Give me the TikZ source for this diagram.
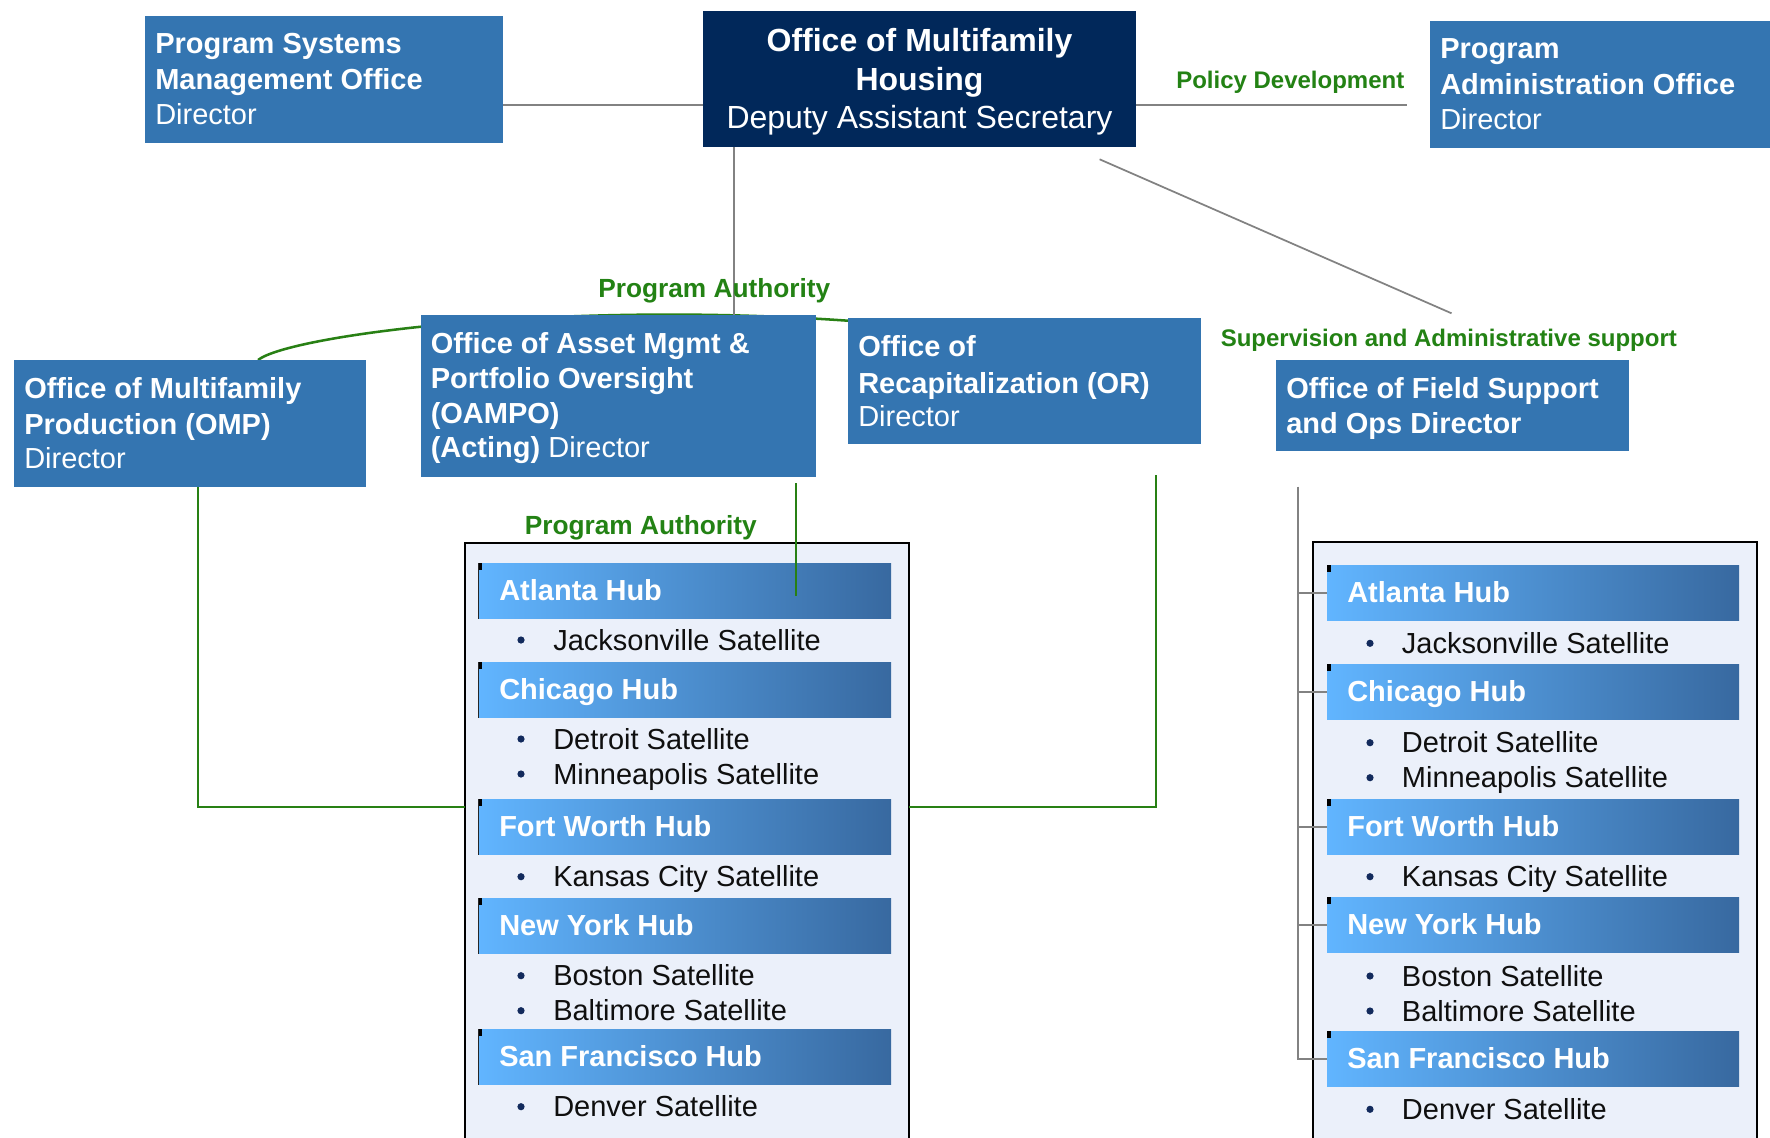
\documentclass[tikz,border=0pt]{standalone}
\usepackage{fontspec}
\setmainfont{Liberation Sans}
\usetikzlibrary{fit}
\definecolor{boxblue}{RGB}{52,117,177}
\definecolor{navy}{RGB}{1,40,90}
\definecolor{lblgreen}{RGB}{35,130,20}
\definecolor{lngreen}{RGB}{40,128,20}
\definecolor{lngray}{RGB}{130,130,130}
\definecolor{panelfill}{RGB}{235,240,250}
\definecolor{hubL}{RGB}{97,181,255}
\definecolor{hubR}{RGB}{56,105,160}
\definecolor{bulletc}{RGB}{18,42,92}
\definecolor{satc}{RGB}{15,15,15}
\begin{document}
\begin{tikzpicture}[x=0.75pt,y=-0.75pt,
  box/.style={fill=boxblue,draw=none,inner sep=0,outer sep=0},
  panel/.style={fill=panelfill,draw=black,line width=1.4pt,inner sep=0,outer sep=0},
  hubbar/.style={left color=hubL,right color=hubR,draw=none,inner sep=0,outer sep=0},
  bt/.style={font=\fontsize{21.75pt}{26pt}\selectfont\bfseries,text=white,inner sep=0,anchor=base west},
  rt/.style={font=\fontsize{21.75pt}{26pt}\selectfont,text=white,inner sep=0,anchor=base west},
  mbt/.style={font=\fontsize{24pt}{28pt}\selectfont\bfseries,text=white,inner sep=0,anchor=base},
  mrt/.style={font=\fontsize{24pt}{28pt}\selectfont,text=white,inner sep=0,anchor=base},
  lbl/.style={font=\fontsize{18pt}{22pt}\selectfont\bfseries,text=lblgreen,inner sep=0,anchor=base west},
  lblbig/.style={font=\fontsize{19.7pt}{24pt}\selectfont\bfseries,text=lblgreen,inner sep=0,anchor=base west},
  hubt/.style={font=\fontsize{21.75pt}{26pt}\selectfont\bfseries,text=white,inner sep=0,anchor=base west},
  sat/.style={font=\fontsize{21.75pt}{26pt}\selectfont,text=satc,inner sep=0,anchor=base west},
  grayline/.style={draw=lngray,line width=1.5pt},
  greenline/.style={draw=lngreen,line width=1.6pt},
]
\useasboundingbox (0,0) rectangle (1770,1138);
\fill[white] (0,0) rectangle (1770,1138);

% ---------- helper coordinates ----------
\coordinate (hA) at (0,105.3);
\coordinate (paoGap) at (1406.7,105.3);
\coordinate (vA) at (734,0);
\coordinate (dgA) at (1099.6,159.3);
\coordinate (dgB) at (1451.5,313.3);
\coordinate (orIn) at (852,321);
\coordinate (gx1) at (198,0);
\coordinate (gy) at (0,806.7);
\coordinate (orTop) at (1156.4,475);
\coordinate (oaTop) at (796,483);
\coordinate (oaEnd) at (796,596);
\coordinate (spTop) at (1298,486.7);

% ---------- green curve (behind boxes) ----------
\draw[draw=lngreen,line width=1.9pt] (258,360) coordinate (cvS) .. controls (290,335) and (560,300) .. (orIn);

% ---------- top boxes ----------
\node (psmo) [box, fit={(145,16) (503,143)}] {};
\node (main) [box, fill=navy, fit={(703,11) (1136,147)}] {};
\node (pao) [box, fit={(1430,21) (1775,147.7)}] {};
\node (omp) [box, fit={(14,360) (366,487)}] {};
\node (oampo) [box, fit={(421,315) (816,477)}] {};
\node (orbox) [box, fit={(848,318) (1201,444)}] {};
\node (ofso) [box, fit={(1276,360) (1629,451)}] {};

% ---------- gray connectors ----------
\draw[grayline] (psmo.east |- hA) -- (main.west |- hA);
\draw[grayline] (main.east |- hA) -- (paoGap);
\draw[grayline] (main.south -| vA) -- (oampo.north -| vA);
\draw[draw=lngray,line width=1.3pt] (dgA) -- (dgB);

% ---------- box texts ----------
\node (psmo1) [bt] at (155,53.3) {Program Systems};
\node (psmo2) [bt] at (155,89.3) {Management Office};
\node (psmo3) [rt] at (155,124) {Director};

\node (main1) [mbt] at (919.5,51.7) {Office of Multifamily};
\node (main2) [mbt] at (919.5,90) {Housing};
\node (main3) [mrt] at (919.5,128.3) {Deputy Assistant Secretary};

\node (pao1) [bt] at (1440,58.3) {Program};
\node (pao2) [bt] at (1440,94.3) {Administration Office};
\node (pao3) [rt] at (1440,129) {Director};

\node (omp1) [bt] at (24,398) {Office of Multifamily};
\node (omp2) [bt] at (24,434) {Production (OMP)};
\node (omp3) [rt] at (24,468) {Director};

\node (oa1) [bt] at (430.5,353) {Office of Asset Mgmt \&};
\node (oa2) [bt] at (430.5,388) {Portfolio Oversight};
\node (oa3) [bt] at (430.5,423) {(OAMPO)};
\node (oa4) [rt] at (430.5,457.7) {\textbf{(Acting)} Director};

\node (or1) [bt] at (858,356) {Office of};
\node (or2) [bt] at (858,393) {Recapitalization (OR)};
\node (or3) [rt] at (858,426.7) {Director};

\node (fs1) [bt] at (1286,398.3) {Office of Field Support};
\node (fs2) [bt] at (1286,433.3) {and Ops Director};

% ---------- labels ----------
\node (lblPD) [lbl] at (1176,89) {Policy Development};
\node (lblPA1) [lblbig] at (598,297.7) {Program Authority};
\node (lblSA) [lbl] at (1220.5,346.7) {Supervision and Administrative support};
\node (lblPA2) [lblbig] at (524.5,534) {Program Authority};

% ---------- panels ----------
\node (lpanel) [panel, fit={(465,543) (909,1160)}] {};
\node (rpanel) [panel, fit={(1313.4,542) (1757,1160)}] {};

% ---------- green connectors ----------
\draw[greenline] (omp.south -| gx1) -- (gx1 |- gy) -- (lpanel.west |- gy);
\draw[greenline] (orTop) -- (orTop |- gy) -- (lpanel.east |- gy);

% ---------- left hubs ----------
\node (lh1) [hubbar, fit={(478,563.3) (891,618.7)}] {};
\node (lh2) [hubbar, fit={(478,662) (891,717.7)}] {};
\node (lh3) [hubbar, fit={(478,799) (891,854.7)}] {};
\node (lh4) [hubbar, fit={(478,898.3) (891,953.7)}] {};
\node (lh5) [hubbar, fit={(478,1029) (891,1084.7)}] {};
\foreach \t/\b in {563.3/618.7,662/717.7,799/854.7,898.3/953.7,1029/1084.7}{
  \fill[black] (478,\t) rectangle (481.5,\t+7);
  \draw[black!85,line width=0.7pt] (478.5,\t) -- (478.5,\b);
}
\node (lh1t) [hubt] at (499,600.7) {Atlanta Hub};
\node (lh2t) [hubt] at (499,699.4) {Chicago Hub};
\node (lh3t) [hubt] at (499,836.4) {Fort Worth Hub};
\node (lh4t) [hubt] at (499,935.7) {New York Hub};
\node (lh5t) [hubt] at (499,1066.4) {San Francisco Hub};

\foreach \y/\s [count=\k] in {650/Jacksonville Satellite,749/Detroit Satellite,784/Minneapolis Satellite,886.7/Kansas City Satellite,985.7/Boston Satellite,1020.7/Baltimore Satellite,1116.7/Denver Satellite}{
  \node (ls\k) [sat] at (553,\y) {\s};
  \fill[bulletc] (521,\y-10) circle (2.7pt);
}

% ---------- right hubs ----------
\node (rh1) [hubbar, fit={(1327,565) (1739,620.7)}] {};
\node (rh2) [hubbar, fit={(1327,664) (1739,719.3)}] {};
\node (rh3) [hubbar, fit={(1327,799) (1739,854.5)}] {};
\node (rh4) [hubbar, fit={(1327,897) (1739,952.7)}] {};
\node (rh5) [hubbar, fit={(1327,1031.3) (1739,1086.7)}] {};
\foreach \t in {565,664,799,897,1031.3}{
  \fill[black] (1327,\t) rectangle (1330.5,\t+7);
}
\node (rh1t) [hubt] at (1347,602.4) {Atlanta Hub};
\node (rh2t) [hubt] at (1347,701.4) {Chicago Hub};
\node (rh3t) [hubt] at (1347,836.4) {Fort Worth Hub};
\node (rh4t) [hubt] at (1347,934.4) {New York Hub};
\node (rh5t) [hubt] at (1347,1068.7) {San Francisco Hub};

\foreach \y/\s [count=\k] in {653.3/Jacksonville Satellite,752.7/Detroit Satellite,787.7/Minneapolis Satellite,886.7/Kansas City Satellite,986/Boston Satellite,1021/Baltimore Satellite,1119.3/Denver Satellite}{
  \node (rs\k) [sat] at (1401.7,\y) {\s};
  \fill[bulletc] (1370,\y-10) circle (2.7pt);
}

% ---------- OAMPO program authority line into Atlanta hub ----------
\draw[greenline] (oaTop) -- (oaEnd);

% ---------- right spine ----------
\draw[grayline] (spTop) -- (spTop |- rh5.west) -- (rh5.west);
\draw[grayline] (spTop |- rh1.west) -- (rh1.west);
\draw[grayline] (spTop |- rh2.west) -- (rh2.west);
\draw[grayline] (spTop |- rh3.west) -- (rh3.west);
\draw[grayline] (spTop |- rh4.west) -- (rh4.west);
\end{tikzpicture}
\end{document}
